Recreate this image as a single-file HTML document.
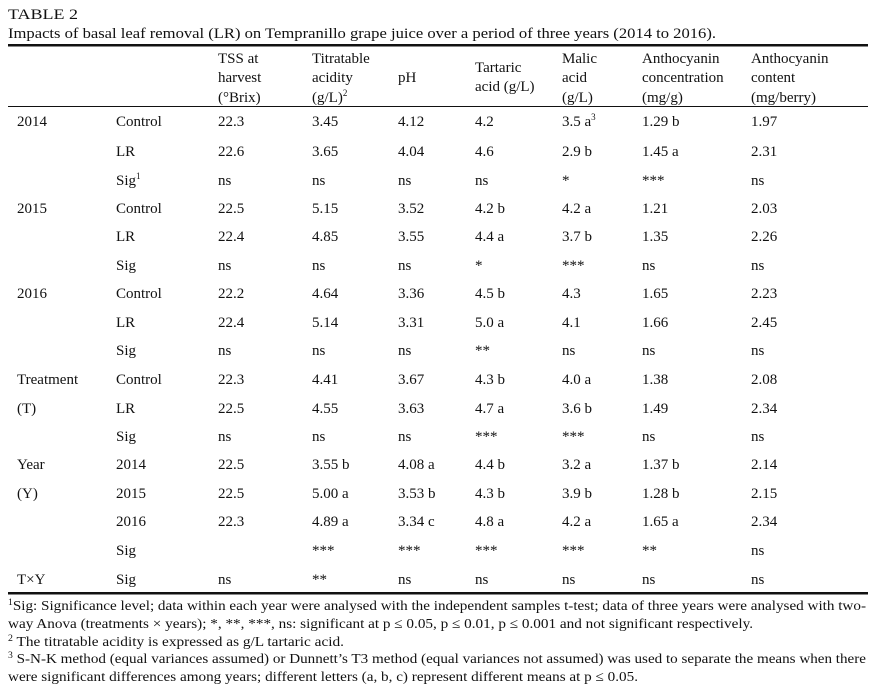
<!DOCTYPE html>
<html><head><meta charset="utf-8"><style>
html,body{margin:0;padding:0;background:#fff;}
svg{display:block;font-family:"Liberation Serif",serif;font-size:15px;fill:#111;}
</style></head><body>
<svg width="873" height="694" viewBox="0 0 873 694" id="tbl">
<text x="8" y="19" textLength="70" lengthAdjust="spacingAndGlyphs">TABLE 2</text>
<text x="8" y="38" textLength="708" lengthAdjust="spacingAndGlyphs">Impacts of basal leaf removal (LR) on Tempranillo grape juice over a period of three years (2014 to 2016).</text>
<rect x="8" y="44" width="860" height="2.5" fill="#111"/>
<rect x="8" y="106" width="860" height="1" fill="#111"/>
<rect x="8" y="592" width="860" height="2.5" fill="#111"/>
<g>
<text x="218" y="63">TSS at</text><text x="218" y="82">harvest</text><text x="218" y="102">(°Brix)</text>
<text x="312" y="63">Titratable</text><text x="312" y="82">acidity</text><text x="312" y="102">(g/L)<tspan font-size="9" dy="-6">2</tspan></text>
<text x="398" y="82">pH</text>
<text x="475" y="72">Tartaric</text><text x="475" y="91">acid (g/L)</text>
<text x="562" y="63">Malic</text><text x="562" y="82">acid</text><text x="562" y="102">(g/L)</text>
<text x="642" y="63">Anthocyanin</text><text x="642" y="82">concentration</text><text x="642" y="102">(mg/g)</text>
<text x="751" y="63">Anthocyanin</text><text x="751" y="82">content</text><text x="751" y="102">(mg/berry)</text>
</g>
<g id="body"></g>
<g font-size="14">
<text x="8" y="610" textLength="858" lengthAdjust="spacingAndGlyphs"><tspan font-size="9" dy="-5">1</tspan><tspan dy="5">Sig: Significance level; data within each year were analysed with the independent samples t-test; data of three years were analysed with two-</tspan></text>
<text x="8" y="628" textLength="745" lengthAdjust="spacingAndGlyphs">way Anova (treatments × years); *, **, ***, ns: significant at p ≤ 0.05, p ≤ 0.01, p ≤ 0.001 and not significant respectively.</text>
<text x="8" y="646" textLength="336" lengthAdjust="spacingAndGlyphs"><tspan font-size="9" dy="-5">2</tspan><tspan dy="5"> The titratable acidity is expressed as g/L tartaric acid.</tspan></text>
<text x="8" y="663" textLength="858" lengthAdjust="spacingAndGlyphs"><tspan font-size="9" dy="-5">3</tspan><tspan dy="5"> S-N-K method (equal variances assumed) or Dunnett’s T3 method (equal variances not assumed) was used to separate the means when there</tspan></text>
<text x="8" y="681" textLength="630" lengthAdjust="spacingAndGlyphs">were significant differences among years; different letters (a, b, c) represent different means at p ≤ 0.05.</text>
</g>
</svg>
<script>
const colX=[17,116,218,312,398,475,562,642,751];
const rowY=[126,156,185,213,241,270,298,327,355,384,413,441,469,498,526,555,584];
const rows=[
["2014","Control","22.3","3.45","4.12","4.2","3.5 a^3","1.29 b","1.97"],
["","LR","22.6","3.65","4.04","4.6","2.9 b","1.45 a","2.31"],
["","Sig^1","ns","ns","ns","ns","*","***","ns"],
["2015","Control","22.5","5.15","3.52","4.2 b","4.2 a","1.21","2.03"],
["","LR","22.4","4.85","3.55","4.4 a","3.7 b","1.35","2.26"],
["","Sig","ns","ns","ns","*","***","ns","ns"],
["2016","Control","22.2","4.64","3.36","4.5 b","4.3","1.65","2.23"],
["","LR","22.4","5.14","3.31","5.0 a","4.1","1.66","2.45"],
["","Sig","ns","ns","ns","**","ns","ns","ns"],
["Treatment","Control","22.3","4.41","3.67","4.3 b","4.0 a","1.38","2.08"],
["(T)","LR","22.5","4.55","3.63","4.7 a","3.6 b","1.49","2.34"],
["","Sig","ns","ns","ns","***","***","ns","ns"],
["Year","2014","22.5","3.55 b","4.08 a","4.4 b","3.2 a","1.37 b","2.14"],
["(Y)","2015","22.5","5.00 a","3.53 b","4.3 b","3.9 b","1.28 b","2.15"],
["","2016","22.3","4.89 a","3.34 c","4.8 a","4.2 a","1.65 a","2.34"],
["","Sig","","***","***","***","***","**","ns"],
["T×Y","Sig","ns","**","ns","ns","ns","ns","ns"]
];
const NS="http://www.w3.org/2000/svg";
const body=document.getElementById('body');
rows.forEach((r,i)=>{
 r.forEach((c,j)=>{
  if(!c) return;
  const t=document.createElementNS(NS,'text');
  
  
  t.setAttribute('x',colX[j]);t.setAttribute('y',rowY[i]);
  const p=c.split('^');
  t.textContent=p[0];
  if(p[1]){const s=document.createElementNS(NS,'tspan');s.setAttribute('font-size','9');s.setAttribute('dy','-6');s.textContent=p[1];t.appendChild(s);}
  body.appendChild(t);
 });
});
</script>
</body></html>
